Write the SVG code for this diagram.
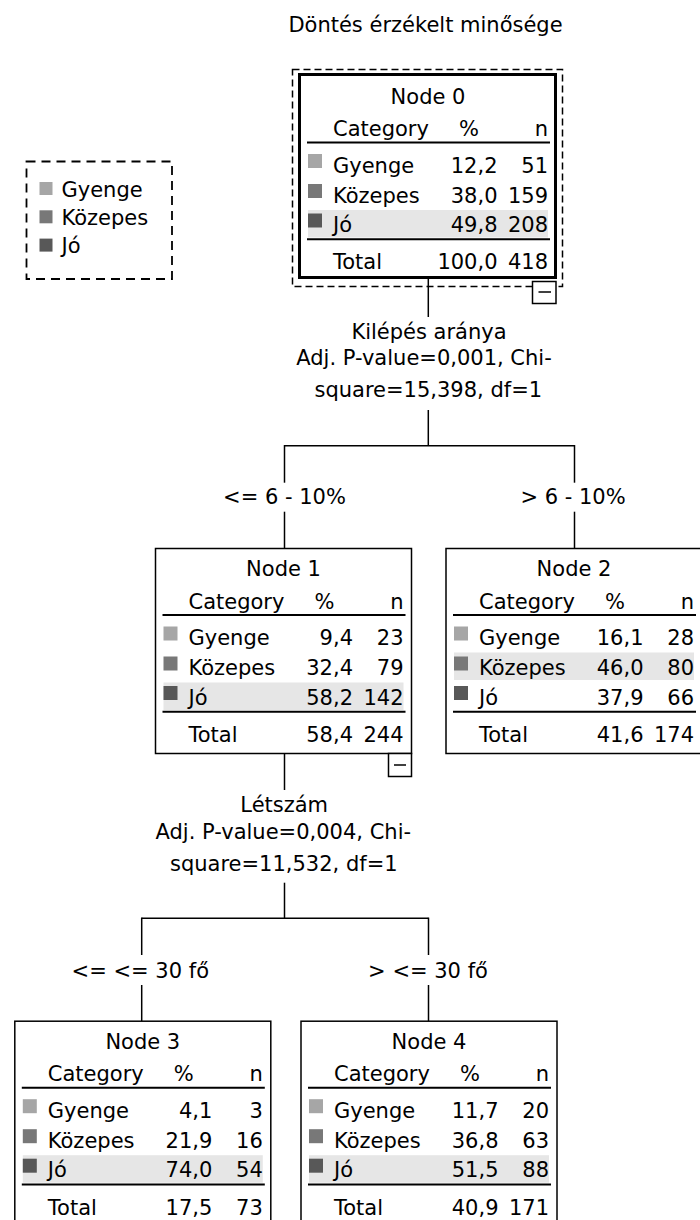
<svg xmlns="http://www.w3.org/2000/svg" width="700" height="1220" viewBox="0 0 700 1220">
<style>
text { font-family: "DejaVu Sans", "Liberation Sans", sans-serif; font-size: 21px; fill: #000; }
.m { text-anchor: middle; }
.e { text-anchor: end; }
.c1 { fill: #a6a6a6; }
.c2 { fill: #787878; }
.c3 { fill: #585858; }
.band { fill: #e6e6e6; }
.frame { fill: #fff; stroke: #000; stroke-width: 1.5; }
.thick { fill: #fff; stroke: #000; stroke-width: 3; }
.rule { stroke: #000; stroke-width: 2; }
.dash { fill: none; stroke: #000; stroke-width: 1.5; stroke-dasharray: 7 4; }
.ldash { fill: none; stroke: #000; stroke-width: 1.8; stroke-dasharray: 9 6; }
.conn line { stroke: #000; stroke-width: 1.5; }
.tog { fill: #fff; stroke: #000; stroke-width: 1.5; }
.minus { stroke: #000; stroke-width: 1.5; }
</style>
<rect width="700" height="1220" fill="#fff"/>

<text id="title" class="m" x="425.5" y="32">Döntés érzékelt minősége</text>

<g id="legend">
  <rect class="ldash" x="26.5" y="161.5" width="145.5" height="117.5"/>
  <rect class="c1" x="39.5" y="182" width="13" height="13"/>
  <text x="61.5" y="196.7">Gyenge</text>
  <rect class="c2" x="39.5" y="210.3" width="13" height="13"/>
  <text x="61.5" y="225">Közepes</text>
  <rect class="c3" x="39.5" y="238.6" width="13" height="13"/>
  <text x="61.5" y="253.3">Jó</text>
</g>

<g id="connectors" class="conn">
  <line x1="428.3" y1="279" x2="428.3" y2="317"/>
  <line x1="428.3" y1="410" x2="428.3" y2="445.7"/>
  <line x1="284" y1="445.7" x2="574.5" y2="445.7"/>
  <line x1="284.5" y1="445" x2="284.5" y2="482.7"/>
  <line x1="574.5" y1="445" x2="574.5" y2="482.7"/>
  <line x1="284.5" y1="511.7" x2="284.5" y2="548.5"/>
  <line x1="574.5" y1="511.7" x2="574.5" y2="548.5"/>
  <line x1="284.5" y1="753.5" x2="284.5" y2="790"/>
  <line x1="284.5" y1="882.7" x2="284.5" y2="918.3"/>
  <line x1="141.5" y1="918.3" x2="428.5" y2="918.3"/>
  <line x1="141.7" y1="917.6" x2="141.7" y2="955"/>
  <line x1="428.5" y1="917.6" x2="428.5" y2="955"/>
  <line x1="141.7" y1="985" x2="141.7" y2="1021.2"/>
  <line x1="428.5" y1="985" x2="428.5" y2="1021.2"/>
</g>

<g id="split0">
  <text class="m" x="429" y="338.5">Kilépés aránya</text>
  <text class="m" x="424" y="365">Adj. P-value=0,001, Chi-</text>
  <text class="m" x="428.3" y="396.7">square=15,398, df=1</text>
  <text class="m" x="284.5" y="504">&lt;= 6 - 10%</text>
  <text class="m" x="573" y="504">&gt; 6 - 10%</text>
</g>

<g id="split1">
  <text class="m" x="284.2" y="812.3">Létszám</text>
  <text class="m" x="283.3" y="839.3">Adj. P-value=0,004, Chi-</text>
  <text class="m" x="283.8" y="870.7">square=11,532, df=1</text>
  <text class="m" x="140.3" y="978.3">&lt;= &lt;= 30 fő</text>
  <text class="m" x="428" y="978.3">&gt; &lt;= 30 fő</text>
</g>

<g id="node0">
  <rect class="dash" x="292.5" y="69.5" width="270" height="217"/>
  <rect class="thick" x="299.5" y="74.5" width="256" height="203"/>
  <g transform="translate(300,76)">
    <rect class="band" x="8" y="134" width="240" height="27.5"/>
    <text class="m" x="128" y="27.5">Node 0</text>
    <text x="33" y="60">Category</text><text class="m" x="169" y="60">%</text><text class="e" x="248" y="60">n</text>
    <line class="rule" x1="7" y1="66.5" x2="250" y2="66.5"/>
    <rect class="c1" x="8" y="78" width="14" height="14"/>
    <text x="33" y="96.5">Gyenge</text><text class="e" x="197.5" y="96.5">12,2</text><text class="e" x="248" y="96.5">51</text>
    <rect class="c2" x="8" y="108" width="14" height="14"/>
    <text x="33" y="126.5">Közepes</text><text class="e" x="197.5" y="126.5">38,0</text><text class="e" x="248" y="126.5">159</text>
    <rect class="c3" x="8" y="137.5" width="14" height="14"/>
    <text x="33" y="156">Jó</text><text class="e" x="197.5" y="156">49,8</text><text class="e" x="248" y="156">208</text>
    <line class="rule" x1="7" y1="163.3" x2="250" y2="163.3"/>
    <text x="33" y="193.4">Total</text><text class="e" x="197.5" y="193.4">100,0</text><text class="e" x="248" y="193.4">418</text>
  </g>
  <rect class="tog" x="532.5" y="281.5" width="23.5" height="22"/>
  <line class="minus" x1="538.5" y1="292" x2="551" y2="292"/>
</g>

<g id="node1" transform="translate(155.5,548.5)">
  <rect class="frame" x="0" y="0" width="256" height="205"/>
  <rect class="band" x="8" y="134" width="240" height="27.5"/>
  <text class="m" x="128" y="27.5">Node 1</text>
  <text x="33" y="60">Category</text><text class="m" x="169" y="60">%</text><text class="e" x="248" y="60">n</text>
  <line class="rule" x1="7" y1="66.5" x2="250" y2="66.5"/>
  <rect class="c1" x="8" y="78" width="14" height="14"/>
  <text x="33" y="96.5">Gyenge</text><text class="e" x="197.5" y="96.5">9,4</text><text class="e" x="248" y="96.5">23</text>
  <rect class="c2" x="8" y="108" width="14" height="14"/>
  <text x="33" y="126.5">Közepes</text><text class="e" x="197.5" y="126.5">32,4</text><text class="e" x="248" y="126.5">79</text>
  <rect class="c3" x="8" y="137.5" width="14" height="14"/>
  <text x="33" y="156">Jó</text><text class="e" x="197.5" y="156">58,2</text><text class="e" x="248" y="156">142</text>
  <line class="rule" x1="7" y1="163.3" x2="250" y2="163.3"/>
  <text x="33" y="193.4">Total</text><text class="e" x="197.5" y="193.4">58,4</text><text class="e" x="248" y="193.4">244</text>
  <rect class="tog" x="233" y="205" width="23" height="23"/>
  <line class="minus" x1="238.5" y1="216.5" x2="250.5" y2="216.5"/>
</g>

<g id="node2" transform="translate(446,548.5)">
  <rect class="frame" x="0" y="0" width="256" height="205"/>
  <rect class="band" x="8" y="104" width="240" height="27.5"/>
  <text class="m" x="128" y="27.5">Node 2</text>
  <text x="33" y="60">Category</text><text class="m" x="169" y="60">%</text><text class="e" x="248" y="60">n</text>
  <line class="rule" x1="7" y1="66.5" x2="250" y2="66.5"/>
  <rect class="c1" x="8" y="78" width="14" height="14"/>
  <text x="33" y="96.5">Gyenge</text><text class="e" x="197.5" y="96.5">16,1</text><text class="e" x="248" y="96.5">28</text>
  <rect class="c2" x="8" y="108" width="14" height="14"/>
  <text x="33" y="126.5">Közepes</text><text class="e" x="197.5" y="126.5">46,0</text><text class="e" x="248" y="126.5">80</text>
  <rect class="c3" x="8" y="137.5" width="14" height="14"/>
  <text x="33" y="156">Jó</text><text class="e" x="197.5" y="156">37,9</text><text class="e" x="248" y="156">66</text>
  <line class="rule" x1="7" y1="163.3" x2="250" y2="163.3"/>
  <text x="33" y="193.4">Total</text><text class="e" x="197.5" y="193.4">41,6</text><text class="e" x="248" y="193.4">174</text>
</g>

<g id="node3" transform="translate(14.8,1021.2)">
  <rect class="frame" x="0" y="0" width="256" height="205"/>
  <rect class="band" x="8" y="134" width="240" height="27.5"/>
  <text class="m" x="128" y="27.5">Node 3</text>
  <text x="33" y="60">Category</text><text class="m" x="169" y="60">%</text><text class="e" x="248" y="60">n</text>
  <line class="rule" x1="7" y1="66.5" x2="250" y2="66.5"/>
  <rect class="c1" x="8" y="78" width="14" height="14"/>
  <text x="33" y="96.5">Gyenge</text><text class="e" x="197.5" y="96.5">4,1</text><text class="e" x="248" y="96.5">3</text>
  <rect class="c2" x="8" y="108" width="14" height="14"/>
  <text x="33" y="126.5">Közepes</text><text class="e" x="197.5" y="126.5">21,9</text><text class="e" x="248" y="126.5">16</text>
  <rect class="c3" x="8" y="137.5" width="14" height="14"/>
  <text x="33" y="156">Jó</text><text class="e" x="197.5" y="156">74,0</text><text class="e" x="248" y="156">54</text>
  <line class="rule" x1="7" y1="163.3" x2="250" y2="163.3"/>
  <text x="33" y="193.4">Total</text><text class="e" x="197.5" y="193.4">17,5</text><text class="e" x="248" y="193.4">73</text>
</g>

<g id="node4" transform="translate(301,1021.2)">
  <rect class="frame" x="0" y="0" width="256" height="205"/>
  <rect class="band" x="8" y="134" width="240" height="27.5"/>
  <text class="m" x="128" y="27.5">Node 4</text>
  <text x="33" y="60">Category</text><text class="m" x="169" y="60">%</text><text class="e" x="248" y="60">n</text>
  <line class="rule" x1="7" y1="66.5" x2="250" y2="66.5"/>
  <rect class="c1" x="8" y="78" width="14" height="14"/>
  <text x="33" y="96.5">Gyenge</text><text class="e" x="197.5" y="96.5">11,7</text><text class="e" x="248" y="96.5">20</text>
  <rect class="c2" x="8" y="108" width="14" height="14"/>
  <text x="33" y="126.5">Közepes</text><text class="e" x="197.5" y="126.5">36,8</text><text class="e" x="248" y="126.5">63</text>
  <rect class="c3" x="8" y="137.5" width="14" height="14"/>
  <text x="33" y="156">Jó</text><text class="e" x="197.5" y="156">51,5</text><text class="e" x="248" y="156">88</text>
  <line class="rule" x1="7" y1="163.3" x2="250" y2="163.3"/>
  <text x="33" y="193.4">Total</text><text class="e" x="197.5" y="193.4">40,9</text><text class="e" x="248" y="193.4">171</text>
</g>
</svg>
